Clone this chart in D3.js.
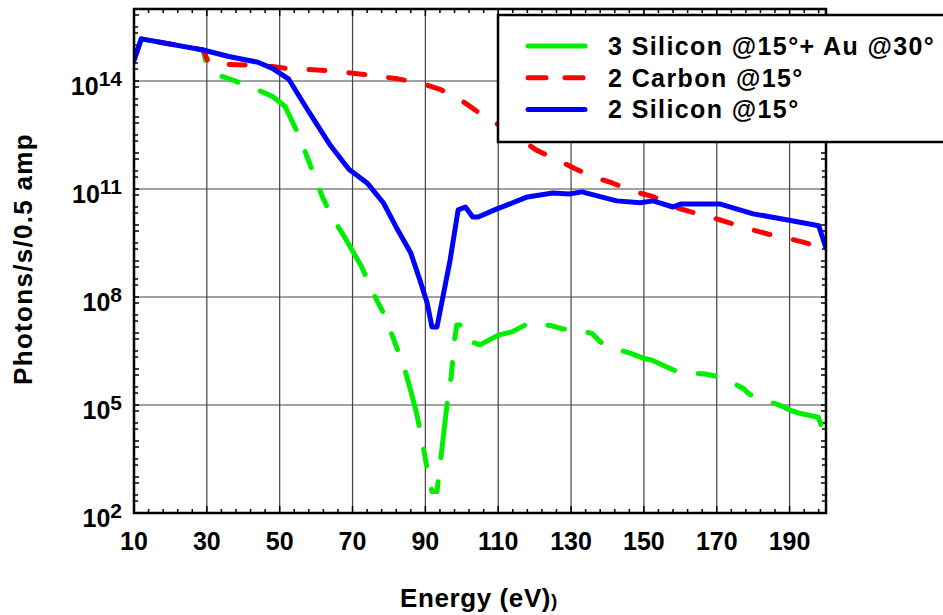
<!DOCTYPE html>
<html>
<head>
<meta charset="utf-8">
<script src="https://cdn.jsdelivr.net/npm/d3@7"></script>
<style>
    body { margin: 0; background: white; }
    text { font-family: "Liberation Sans", Arial, sans-serif; font-weight: bold; fill: black; }
</style>
</head>
<body>
<svg width="943" height="615"></svg>
<script>
// energy (eV), log10(photons/s/0.5 amp)
const silicon2 = [
    [10, 14.58], [12, 15.17], [29, 14.86], [36, 14.68], [44, 14.52], [48, 14.35], [52.5, 14.05],
    [56.5, 13.39], [60, 12.83], [64, 12.2], [69, 11.55], [74, 11.17], [78.5, 10.61], [82, 9.94],
    [86, 9.22], [88.5, 8.47], [90.5, 7.83], [91.8, 7.17], [93.2, 7.17], [96.8, 9.03], [99, 10.42],
    [101, 10.5], [103, 10.22], [104.5, 10.22], [109, 10.42], [112.5, 10.56], [118, 10.78],
    [125, 10.89], [129.5, 10.86], [133, 10.92], [142.5, 10.67], [149, 10.62], [152.5, 10.67],
    [158, 10.5], [160, 10.58], [171, 10.58], [180, 10.31], [189.5, 10.14], [198, 9.98], [200, 9.36]
];

const carbon2 = [
    [10, 14.58], [12, 15.17], [29, 14.86], [30.5, 14.5], [36, 14.46], [42, 14.44], [48, 14.4],
    [52, 14.35], [57.5, 14.32], [63, 14.29], [72.5, 14.19], [82.5, 14.06], [89, 13.93], [94, 13.77],
    [99.5, 13.49], [105, 13.1], [113, 12.6], [120.5, 12.08], [126, 11.82], [131, 11.57], [136, 11.34],
    [141.5, 11.16], [147, 10.94], [152.5, 10.79], [158, 10.51], [162.7, 10.37], [168, 10.23],
    [173.5, 10.06], [178.5, 9.9], [184, 9.75], [189.5, 9.63], [195, 9.49], [197.5, 9.35], [200, 9.08]
];

const silicon3Au = [
    [10, 14.58], [12, 15.17], [29, 14.86], [30, 14.44], [33, 14.17], [38.3, 13.98], [44, 13.75],
    [48.2, 13.56], [51.5, 13.29], [55.6, 12.42], [57.5, 11.9], [59.7, 11.32], [61.7, 10.79],
    [64.3, 10.23], [67.5, 9.72], [72.5, 8.84], [75.7, 8.1], [78.4, 7.57], [80.5, 7.04], [84.4, 5.97],
    [85.8, 5.46], [87.6, 4.77], [89.5, 3.8], [90.3, 3.33], [91.8, 2.6], [93.2, 2.6], [94.4, 3.66],
    [96.2, 5.23], [97.1, 5.79], [98, 6.8], [98.6, 7.22], [100.2, 7.22], [103.3, 6.73], [105, 6.67],
    [110, 6.94], [114, 7.04], [118.3, 7.27], [119.7, 7.27], [124.7, 7.2], [127.9, 7.11], [130.2, 7.13],
    [135.7, 6.99], [138, 6.76], [140.2, 6.62], [146.2, 6.44], [149.8, 6.3], [152.1, 6.25], [158.1, 5.97],
    [161.3, 5.9], [166.8, 5.86], [171.4, 5.77], [177.3, 5.46], [179.1, 5.29], [182.3, 5.18],
    [187.8, 4.97], [190.1, 4.86], [192.8, 4.77], [197.9, 4.66], [200, 4.03]
];

const xTicks = [10, 30, 50, 70, 90, 110, 130, 150, 170, 190];
const yTickExps = [2, 5, 8, 11, 14];
const legendLabels = ["3 Silicon @15°+ Au @30°", "2 Carbon @15°", "2 Silicon @15°"];

const series = [
    { name: legendLabels[0], data: silicon3Au, color: "#00ee00", dash: "55,24,17,24,17,24", legendDash: null },
    { name: legendLabels[1], data: carbon2, color: "#ff0000", dash: "16,24", legendDash: "18,19" },
    { name: legendLabels[2], data: silicon2, color: "#0000ff", dash: null, legendDash: null }
];

const svg = d3.select("svg");
const plot = { left: 134, right: 826, top: 9, bottom: 513 };

const x = d3.scaleLinear().domain([10, 200]).range([plot.left, plot.right]);
const y = d3.scaleLog().domain([1e2, 1e16]).range([plot.bottom, plot.top]);

svg.append("clipPath").attr("id", "clip")
    .append("rect")
    .attr("x", plot.left).attr("y", plot.top)
    .attr("width", plot.right - plot.left).attr("height", plot.bottom - plot.top);

// grid
const grid = svg.append("g").attr("stroke", "#444").attr("stroke-width", 1.2);
grid.selectAll(".gx").data(xTicks.slice(1)).enter().append("line")
    .attr("x1", d => x(d)).attr("x2", d => x(d))
    .attr("y1", plot.top).attr("y2", plot.bottom);
grid.selectAll(".gy").data(yTickExps.slice(1)).enter().append("line")
    .attr("x1", plot.left).attr("x2", plot.right)
    .attr("y1", d => y(Math.pow(10, d))).attr("y2", d => y(Math.pow(10, d)));

// minor ticks
const ticks = svg.append("g").attr("stroke", "black").attr("stroke-width", 1.5);
const xMinor = d3.range(10, 200.1, 4);
xMinor.forEach(v => {
    const len = xTicks.includes(v) ? 7 : 4;
    ticks.append("line").attr("x1", x(v)).attr("x2", x(v)).attr("y1", plot.bottom).attr("y2", plot.bottom - len);
    ticks.append("line").attr("x1", x(v)).attr("x2", x(v)).attr("y1", plot.top).attr("y2", plot.top + len);
});
const yMinor = d3.range(2, 16.01, 0.5);
yMinor.forEach(e => {
    const len = Number.isInteger(e) ? 5 : 4;
    [e, e - 1 / 6].forEach(v => {
        if (v < 2) return;
        ticks.append("line").attr("x1", plot.left).attr("x2", plot.left + len).attr("y1", y(Math.pow(10, v))).attr("y2", y(Math.pow(10, v)));
        ticks.append("line").attr("x1", plot.right).attr("x2", plot.right - len).attr("y1", y(Math.pow(10, v))).attr("y2", y(Math.pow(10, v)));
    });
});

// curves
const line = d3.line()
    .x(d => x(d[0]))
    .y(d => y(Math.pow(10, d[1])));

const curves = svg.append("g").attr("clip-path", "url(#clip)");
series.forEach(s => {
    curves.append("path")
        .attr("d", line(s.data))
        .attr("fill", "none")
        .attr("stroke", s.color)
        .attr("stroke-width", 5)
        .attr("stroke-linecap", "round")
        .attr("stroke-linejoin", "round")
        .attr("stroke-dasharray", s.dash);
});

// frame
svg.append("rect")
    .attr("x", plot.left).attr("y", plot.top)
    .attr("width", plot.right - plot.left).attr("height", plot.bottom - plot.top)
    .attr("fill", "none").attr("stroke", "black").attr("stroke-width", 2.5);

// tick labels
svg.selectAll(".xl").data(xTicks).enter().append("text")
    .attr("x", d => x(d)).attr("y", 550)
    .attr("text-anchor", "middle")
    .style("font-size", "25px")
    .text(d => d);

const yl = svg.selectAll(".yl").data(yTickExps).enter().append("text")
    .attr("x", 122).attr("y", d => y(Math.pow(10, d)) + 14)
    .attr("text-anchor", "end")
    .style("font-size", "25px");
yl.append("tspan").text("10");
yl.append("tspan").attr("dy", -9).style("font-size", "21px").text(d => d);

// axis titles
const xTitle = svg.append("text")
    .attr("x", 400).attr("y", 607)
    .style("font-size", "26px")
    .style("letter-spacing", "0.6px");
xTitle.append("tspan").text("Energy (eV)");
xTitle.append("tspan").style("font-size", "19px").text(")");

svg.append("text")
    .attr("transform", "translate(32,259) rotate(-90)")
    .attr("text-anchor", "middle")
    .style("font-size", "26px")
    .style("letter-spacing", "1.3px")
    .text("Photons/s/0.5 amp");

// legend
const legend = svg.append("g");
legend.append("rect")
    .attr("x", 498).attr("y", 15)
    .attr("width", 480).attr("height", 127)
    .attr("fill", "white").attr("stroke", "black").attr("stroke-width", 2.5);

series.forEach((s, i) => {
    const ly = 46 + i * 31.7;
    legend.append("line")
        .attr("x1", 528).attr("x2", 585)
        .attr("y1", ly).attr("y2", ly)
        .attr("stroke", s.color).attr("stroke-width", 5)
        .attr("stroke-linecap", "round")
        .attr("stroke-dasharray", s.legendDash);
    legend.append("text")
        .attr("x", 608).attr("y", ly + 9)
        .style("font-size", "25px")
        .style("letter-spacing", "1.4px")
        .text(s.name);
});
</script>
</body>
</html>
